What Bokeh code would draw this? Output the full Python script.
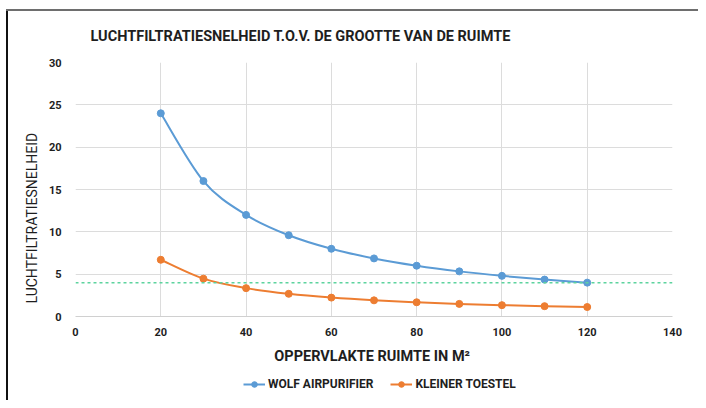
from bokeh.plotting import figure
from bokeh.layouts import column
from bokeh.models import (Range1d, FixedTicker, Legend, LegendItem, Span, ColumnDataSource, Title)
from bokeh.embed import file_html
from bokeh.resources import INLINE

# ---- data ----
area = [20, 30, 40, 50, 60, 70, 80, 90, 100, 110, 120]
wolf = [24.0, 16.0, 12.0, 9.6, 8.0, 6.86, 6.0, 5.33, 4.8, 4.36, 4.0]
kleiner = [6.7, 4.47, 3.35, 2.68, 2.23, 1.91, 1.68, 1.49, 1.34, 1.22, 1.12]
threshold = 4.0
x_ticks = [0, 20, 40, 60, 80, 100, 120, 140]
y_ticks = [0, 5, 10, 15, 20, 25, 30]
series_names = ["WOLF AIRPURIFIER", "KLEINER TOESTEL"]
title_text = "LUCHTFILTRATIESNELHEID T.O.V. DE GROOTTE VAN DE RUIMTE"
x_label = "OPPERVLAKTE RUIMTE  IN M\u00b2"
y_label = "LUCHTFILTRATIESNELHEID"

BLUE = "#5b9bd5"
ORANGE = "#ed7d31"
GREEN = "#5dd39e"
FONT = "Roboto"
TXT = "#1e1e1e"

p = figure(width=698, height=368, output_backend="svg", toolbar_location=None,
           x_range=Range1d(0, 140), y_range=Range1d(0, 30),
           min_border_left=75, min_border_right=26, min_border_top=62, min_border_bottom=52,
           border_fill_color=None)

p.title.text = title_text
p.title.text_font = FONT
p.title.text_font_size = "14.5px"
p.title.text_font_style = "bold"
p.title.text_color = TXT
p.title.offset = 15
p.title.standoff = 35

p.outline_line_color = None
for ax in (p.xaxis[0], p.yaxis[0]):
    ax.axis_line_color = None
    ax.major_tick_line_color = None
    ax.minor_tick_line_color = None
    ax.major_label_text_font = FONT
    ax.major_label_text_font_style = "bold"
    ax.major_label_text_font_size = "11px"
    ax.major_label_text_color = TXT
p.xaxis[0].axis_line_color = "#d0d0d0"
p.xaxis[0].ticker = FixedTicker(ticks=x_ticks)
p.yaxis[0].ticker = FixedTicker(ticks=y_ticks)
p.xaxis[0].axis_label = x_label
p.xaxis[0].axis_label_text_font = FONT
p.xaxis[0].axis_label_text_font_style = "bold"
p.xaxis[0].axis_label_text_font_size = "14.5px"
p.xaxis[0].axis_label_text_color = TXT
p.xaxis[0].axis_label_standoff = 9
p.xaxis[0].major_label_standoff = 5
p.yaxis[0].major_label_standoff = 8

ytitle = Title(text=y_label, align="left", offset=13, standoff=12,
               text_font=FONT, text_font_size="14px", text_font_style="normal",
               text_color=TXT)
p.add_layout(ytitle, "left")

p.xgrid.ticker = FixedTicker(ticks=x_ticks)
p.ygrid.ticker = FixedTicker(ticks=y_ticks)
p.xgrid.grid_line_color = "#dcdcdc"
p.ygrid.grid_line_color = "#dcdcdc"


def smooth_segments(xs, ys):
    n = len(xs)
    x0, y0, x1, y1, cx0, cy0, cx1, cy1 = [], [], [], [], [], [], [], []
    for i in range(n - 1):
        xa, ya = xs[i], ys[i]
        xb, yb = xs[i + 1], ys[i + 1]
        xp, yp = (xs[i - 1], ys[i - 1]) if i > 0 else (xa, ya)
        xn, yn = (xs[i + 2], ys[i + 2]) if i + 2 < n else (xb, yb)
        t = 1.0 / 6.0
        x0.append(xa); y0.append(ya); x1.append(xb); y1.append(yb)
        cx0.append(xa + (xb - xp) * t); cy0.append(ya + (yb - yp) * t)
        cx1.append(xb - (xn - xa) * t); cy1.append(yb - (yn - ya) * t)
    return ColumnDataSource(dict(x0=x0, y0=y0, x1=x1, y1=y1, cx0=cx0, cy0=cy0, cx1=cx1, cy1=cy1))


p.add_layout(Span(location=threshold, dimension="width", line_color=GREEN,
                  line_dash="3 3", line_width=1.5))

# legend strip (separate small figure below the chart)
lf = figure(width=698, height=32, output_backend="svg", toolbar_location=None,
            x_range=Range1d(0, 1), y_range=Range1d(0, 1),
            min_border_left=0, min_border_right=0, min_border_top=0, min_border_bottom=0,
            border_fill_color=None, background_fill_color=None)
lf.axis.visible = False
lf.grid.visible = False
lf.outline_line_color = None

items = []
for ys, col, name in ((wolf, BLUE, series_names[0]), (kleiner, ORANGE, series_names[1])):
    src = smooth_segments(area, ys)
    p.bezier(x0="x0", y0="y0", x1="x1", y1="y1", cx0="cx0", cy0="cy0", cx1="cx1", cy1="cy1",
             source=src, line_color=col, line_width=2)
    p.scatter(area, ys, size=7, fill_color=col, line_color=col)
    # off-range placeholder glyphs, only used to draw the legend swatches
    lg = lf.line([5, 6], [5, 5], line_color=col, line_width=2)
    sc = lf.scatter([5], [5], size=7, fill_color=col, line_color=col)
    items.append(LegendItem(label=name, renderers=[lg, sc]))

legend = Legend(items=items, orientation="horizontal", location=(168, 9),
                label_text_font=FONT, label_text_font_style="bold", label_text_font_size="12px",
                label_text_color=TXT, border_line_color=None, background_fill_alpha=0,
                glyph_width=22, glyph_height=14, spacing=17, padding=0, margin=0, label_standoff=3)
lf.add_layout(legend, "center")

layout = column(p, lf, spacing=0,
                styles={"background": "linear-gradient(#6e6e6e, #6e6e6e) 6px 9px / 100% 2px no-repeat, "
                                      "linear-gradient(#111111, #111111) 6px 9px / 2px 100% no-repeat, #ffffff"})
open("out.html", "w").write(file_html(layout, INLINE))
